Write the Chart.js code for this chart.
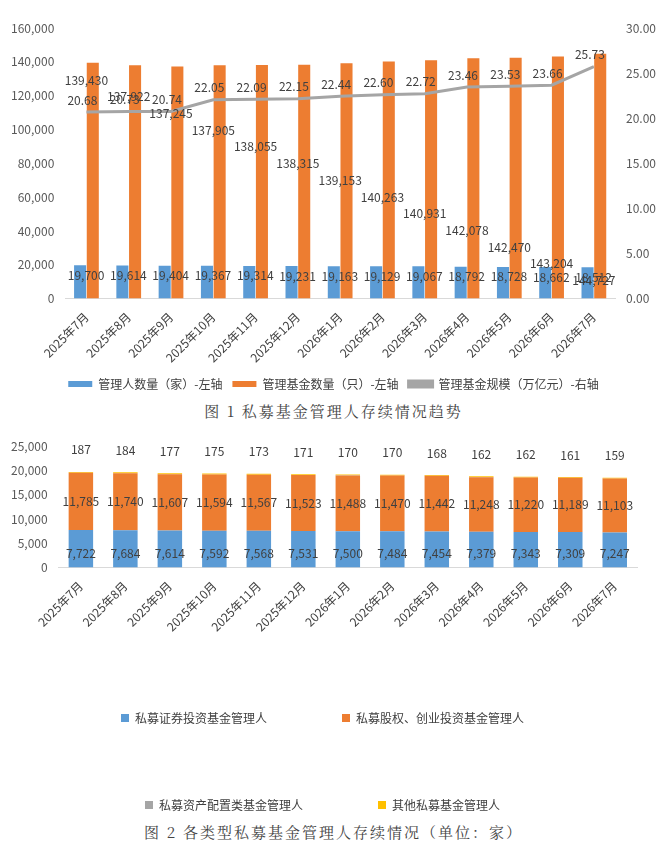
<!DOCTYPE html>
<html><head><meta charset="utf-8">
<script src="https://cdn.jsdelivr.net/npm/chart.js@4"></script>
<style>
body{margin:0;background:#fff;width:667px;font-family:"Noto Sans CJK SC",sans-serif}
.box{position:relative;width:667px}
.cap{text-align:center;font-size:15px;color:#444;letter-spacing:2px;font-family:"Noto Serif CJK SC","Noto Sans CJK SC",serif}
</style></head><body>
<div class="box" style="height:400px"><canvas id="c1"></canvas></div>
<div class="cap" style="height:30px">图 1 私募基金管理人存续情况趋势</div>
<div class="box" style="height:385px;margin-top:6px"><canvas id="c2"></canvas></div>
<div class="cap">图 2 各类型私募基金管理人存续情况（单位：家）</div>
<script>
var months = ["2025年7月","2025年8月","2025年9月","2025年10月","2025年11月","2025年12月","2026年1月","2026年2月","2026年3月","2026年4月","2026年5月","2026年6月","2026年7月"];
var managers = [19700,19614,19404,19367,19314,19231,19163,19129,19067,18792,18728,18662,18512];
var funds = [139430,137922,137245,137905,138055,138315,139153,140263,140931,142078,142470,143204,144727];
var scale = [20.68,20.73,20.74,22.05,22.09,22.15,22.44,22.60,22.72,23.46,23.53,23.66,25.73];
var secMgr = [7722,7684,7614,7592,7568,7531,7500,7484,7454,7379,7343,7309,7247];
var eqMgr = [11785,11740,11607,11594,11567,11523,11488,11470,11442,11248,11220,11189,11103];
var assetMgr = [6,6,6,6,6,6,6,6,6,6,6,6,6];
var otherMgr = [187,184,177,175,173,171,170,170,168,162,162,161,159];

var BLUE = "#5b9bd5", ORANGE = "#ed7d31", GRAY = "#a5a5a5", YELLOW = "#ffc000";
Chart.defaults.font.family = "Noto Sans CJK SC";
Chart.defaults.color = "#595959";
var fmt = function (v) { return v.toLocaleString("en-US"); };

function txt(ctx, s, x, y, size) {
    ctx.save();
    ctx.font = (size || 12) + "px 'Noto Sans CJK SC'";
    ctx.fillStyle = "#404040";
    ctx.textAlign = "center";
    ctx.textBaseline = "middle";
    ctx.fillText(s, x, y);
    ctx.restore();
}

var labels1 = {
    id: "labels1",
    afterDatasetsDraw: function (chart) {
        const ctx = chart.ctx, area = chart.chartArea;
        const n = months.length;
        chart.getDatasetMeta(0).data.forEach(function (b, i) {
            txt(ctx, fmt(managers[i]), b.x + 6, b.y + 10);
        });
        chart.getDatasetMeta(1).data.forEach(function (b, i) {
            const x = chart.scales.x.getPixelForValue(i);
            const y = area.top + 52 + (area.bottom - area.top - 70) * i / (n - 1);
            txt(ctx, fmt(funds[i]), x, y);
        });
        chart.getDatasetMeta(2).data.forEach(function (p, i) {
            txt(ctx, scale[i].toFixed(2), p.x - 4, p.y - 12);
        });
    }
};

new Chart(document.getElementById("c1"), {
    type: "bar",
    plugins: [labels1],
    data: {
        labels: months,
        datasets: [
            { label: "管理人数量（家）-左轴", data: managers, backgroundColor: BLUE, yAxisID: "y", order: 2, categoryPercentage: 0.6, barPercentage: 0.95 },
            { label: "管理基金数量（只）-左轴", data: funds, backgroundColor: ORANGE, yAxisID: "y", order: 2, categoryPercentage: 0.6, barPercentage: 0.95 },
            { type: "line", label: "管理基金规模（万亿元）-右轴", data: scale, borderColor: GRAY, backgroundColor: GRAY, borderWidth: 3, pointRadius: 0, yAxisID: "y1", order: 1 }
        ]
    },
    options: {
        responsive: true, maintainAspectRatio: false, animation: false,
        layout: { padding: { left: 8, right: 8, top: 28 } },
        plugins: {
            legend: { position: "bottom", labels: { boxWidth: 24, boxHeight: 6, font: { size: 12 }, color: "#404040", padding: 10, sort: function (a, b) { return a.datasetIndex - b.datasetIndex; } } },
            tooltip: { enabled: false }
        },
        scales: {
            x: { grid: { display: false }, border: { color: "#d9d9d9" }, ticks: { maxRotation: 45, minRotation: 45, font: { size: 12 }, color: "#404040" } },
            y: { min: 0, max: 160000, ticks: { stepSize: 20000, callback: fmt, font: { size: 12 } }, grid: { display: false }, border: { display: false } },
            y1: { position: "right", min: 0, max: 30, ticks: { stepSize: 5, callback: function (v) { return v.toFixed(2); }, font: { size: 12 } }, grid: { display: false }, border: { display: false } }
        }
    }
});

var labels2 = {
    id: "labels2",
    afterDatasetsDraw: function (chart) {
        const ctx = chart.ctx;
        chart.getDatasetMeta(0).data.forEach(function (b, i) {
            txt(ctx, fmt(secMgr[i]), b.x, b.base - 14);
        });
        chart.getDatasetMeta(1).data.forEach(function (b, i) {
            txt(ctx, fmt(eqMgr[i]), b.x, (b.y + b.base) / 2);
        });
        chart.getDatasetMeta(3).data.forEach(function (b, i) {
            txt(ctx, fmt(otherMgr[i]), b.x, b.y - 22);
        });
    }
};

new Chart(document.getElementById("c2"), {
    type: "bar",
    plugins: [labels2],
    data: {
        labels: months,
        datasets: [
            { label: "私募证券投资基金管理人", data: secMgr, backgroundColor: BLUE },
            { label: "私募股权、创业投资基金管理人", data: eqMgr, backgroundColor: ORANGE },
            { label: "私募资产配置类基金管理人", data: assetMgr, backgroundColor: GRAY },
            { label: "其他私募基金管理人", data: otherMgr, backgroundColor: YELLOW }
        ].map(function (d) { d.categoryPercentage = 0.55; d.barPercentage = 1; return d; })
    },
    options: {
        responsive: true, maintainAspectRatio: false, animation: false,
        layout: { padding: { left: 8, right: 30, top: 8 } },
        plugins: {
            legend: { position: "bottom", labels: { boxWidth: 8, boxHeight: 8, font: { size: 12 }, color: "#404040", padding: 75 } },
            tooltip: { enabled: false }
        },
        scales: {
            x: { stacked: true, grid: { display: false }, border: { color: "#d9d9d9" }, ticks: { maxRotation: 45, minRotation: 45, font: { size: 12 }, color: "#404040" } },
            y: { stacked: true, min: 0, max: 25000, ticks: { stepSize: 5000, callback: fmt, font: { size: 12 } }, grid: { display: false }, border: { display: false } }
        }
    }
});
</script>
</body></html>
